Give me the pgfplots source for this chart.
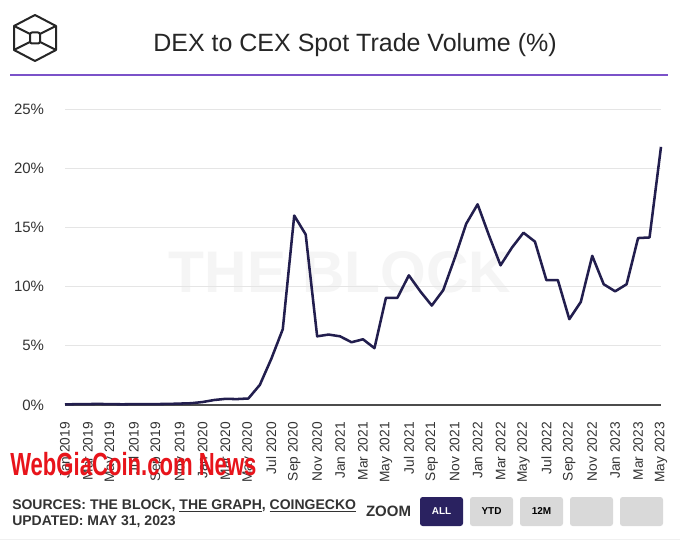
\documentclass[border=0pt]{standalone}
\usepackage{pgfplots}
\pgfplotsset{compat=1.18}
\usepackage{fontspec}
\setmainfont{Liberation Sans}
\definecolor{linenavy}{HTML}{221E4E}
\definecolor{btnnavy}{HTML}{2A2260}
\definecolor{rulepurple}{HTML}{7B52C9}
\definecolor{btngray}{HTML}{D9D9D9}
\definecolor{txt}{HTML}{333333}
\definecolor{wmred}{HTML}{E8141B}
\begin{document}
\begin{tikzpicture}
\begin{scope}[yshift=406.5pt, x=0.75pt, y=-0.75pt]
\path[fill=white] (0,0) rectangle (680,542);
% logo
\begin{scope}[line width=1.5pt, line join=round, draw=black!85]
\draw (35,15)--(56,26)--(56,50)--(35,61)--(14,50)--(14,26)--cycle;
\draw[rounded corners=1.5pt] (30,32.5) rectangle (40,43.5);
\draw (14,26)--(30,34);
\draw (56,26)--(40,34);
\draw (14,50)--(30,42);
\draw (56,50)--(40,42);
\end{scope}
\node[font=\fontsize{18.75}{22}\selectfont, text=black!85, anchor=base, inner sep=0pt] at (355,52) {DEX to CEX Spot Trade Volume (\%)};
\draw[rulepurple, line width=1.1pt] (10,75)--(668,75);
\node[font=\bfseries\fontsize{44}{50}\selectfont, text=black!4] at (340,272) {THE BLOCK};
\end{scope}

\begin{axis}[
  at={(48.75pt,102.75pt)}, anchor=south west,
  width=447pt, height=222pt, scale only axis,
  xmin=0, xmax=52, ymin=0, ymax=25,
  axis line style={draw=none},
  major tick length=0pt,
  ytick={0,5,10,15,20,25},
  yticklabels={0\%,5\%,10\%,15\%,20\%,25\%},
  ymajorgrids,
  grid style={color=black!10, line width=0.6pt},
  xtick={0,2,...,52},
  xticklabels={Jan 2019,Mar 2019,May 2019,Jul 2019,Sep 2019,Nov 2019,Jan 2020,Mar 2020,May 2020,Jul 2020,Sep 2020,Nov 2020,Jan 2021,Mar 2021,May 2021,Jul 2021,Sep 2021,Nov 2021,Jan 2022,Mar 2022,May 2022,Jul 2022,Sep 2022,Nov 2022,Jan 2023,Mar 2023,May 2023},
  xticklabel style={rotate=90, anchor=east, inner sep=0pt, font=\fontsize{10.3}{12}\selectfont, text=txt},
  xticklabel shift=12.75pt,
  yticklabel style={anchor=east, inner sep=0pt, font=\fontsize{11.25}{13}\selectfont, text=txt},
  yticklabel shift=15.5pt,
  clip=false,
]
\draw[black!70, line width=0.9pt] (axis cs:0,0)--(axis cs:52,0);
\addplot[linenavy, line width=1.9pt, line join=round, mark=none] coordinates {
(0,0.05) (1,0.07) (2,0.08) (3,0.09) (4,0.07) (5,0.06) (6,0.07) (7,0.07) (8,0.08) (9,0.09)
(10,0.12) (11,0.15) (12,0.25) (13,0.42) (14,0.52) (15,0.5) (16,0.55) (17,1.7) (18,3.9) (19,6.4)
(20,16.0) (21,14.4) (22,5.8) (23,5.95) (24,5.8) (25,5.3) (26,5.55) (27,4.8) (28,9.05) (29,9.05)
(30,10.95) (31,9.6) (32,8.4) (33,9.7) (34,12.4) (35,15.3) (36,16.95) (37,14.3) (38,11.8) (39,13.3)
(40,14.55) (41,13.8) (42,10.55) (43,10.55) (44,7.25) (45,8.7) (46,12.6) (47,10.2) (48,9.6) (49,10.2)
(50,14.1) (51,14.15) (52,21.8)
};
\end{axis}

\begin{scope}[yshift=406.5pt, x=0.75pt, y=-0.75pt]
\node[anchor=base west, inner sep=0pt, font=\bfseries\fontsize{10.5}{12}\selectfont, text=txt] at (12,509) {SOURCES: THE BLOCK, \underline{THE GRAPH}, \underline{COINGECKO}};
\node[anchor=base west, inner sep=0pt, font=\bfseries\fontsize{10.5}{12}\selectfont, text=txt] at (12,525) {UPDATED: MAY 31, 2023};
\node[font=\bfseries\fontsize{11.25}{13}\selectfont, text=txt] at (388.5,511) {ZOOM};
\fill[btnnavy, rounded corners=2pt] (420,497) rectangle (463,526);
\fill[btngray, rounded corners=2pt] (470,497) rectangle (513,526);
\fill[btngray, rounded corners=2pt] (520,497) rectangle (563,526);
\fill[btngray, rounded corners=2pt] (570,497) rectangle (613,526);
\fill[btngray, rounded corners=2pt] (620,497) rectangle (663,526);
\node[text=white, font=\bfseries\fontsize{7.5}{9}\selectfont] at (441.5,511.5) {ALL};
\node[text=black, font=\bfseries\fontsize{7.5}{9}\selectfont] at (491.5,511.5) {YTD};
\node[text=black, font=\bfseries\fontsize{7.5}{9}\selectfont] at (541.5,511.5) {12M};
\draw[black!6, line width=0.75pt] (0,539)--(680,539);
\node[anchor=base west, inner sep=0pt, text=wmred, font=\bfseries\fontsize{24}{28}\selectfont] at (10,475) {\scalebox{0.69}[1]{WebGiaCoin.com News}};
\end{scope}
\pgfresetboundingbox
\path[use as bounding box] (0,0) rectangle (510pt,406.5pt);
\end{tikzpicture}
\end{document}
